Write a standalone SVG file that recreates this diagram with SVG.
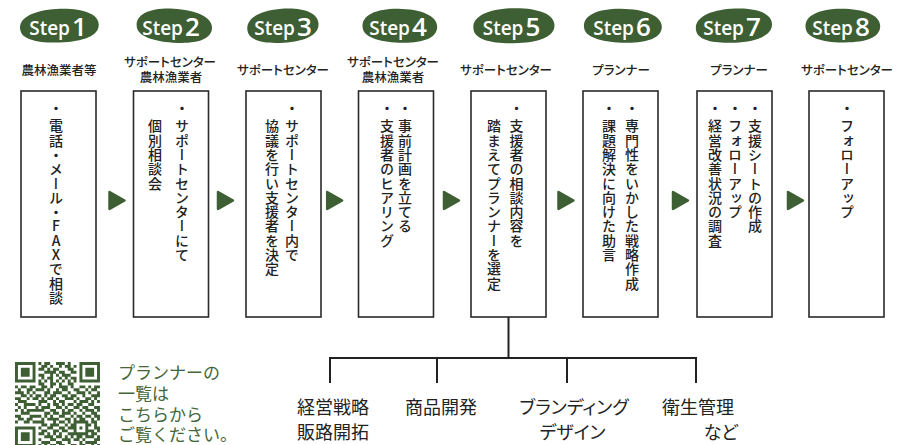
<svg xmlns="http://www.w3.org/2000/svg" width="910" height="445" viewBox="0 0 910 445">
<style>
.badge{fill:#3e5f34}
.st{fill:#fff;font-family:"Open Sans","Liberation Sans",sans-serif;font-weight:600;text-anchor:middle}
.lbl{font-family:"Noto Sans CJK JP",sans-serif;font-size:12.5px;font-weight:500;fill:#222;text-anchor:middle;font-feature-settings:"palt"}
.box{fill:#fff;stroke:#2a2a2a;stroke-width:1.6}
.vt{font-family:"Noto Sans CJK JP",sans-serif;font-size:14px;font-weight:500;fill:#222;writing-mode:vertical-rl;letter-spacing:0.3px}
.arr{fill:#3e5f34;stroke:#3e5f34;stroke-width:2.5;stroke-linejoin:round}
.tree{stroke:#222;stroke-width:2;fill:none}
.cat{font-family:"Noto Sans CJK JP",sans-serif;font-size:18px;fill:#222;font-feature-settings:"palt"}
.qrt{font-family:"Noto Sans CJK JP",sans-serif;font-size:17px;fill:#456639}
</style>
<defs>
<path id="blob" d="M-40,3 C-42,-10 -25,-17 -2,-17.5 C22,-18 41,-12 41,0 C41,12 25,17.5 0,17.5 C-22,17.5 -39,13 -40,3 Z"/>
</defs>

<g id="step1">
<use href="#blob" class="badge" transform="translate(59,25.7) rotate(-2) scale(0.97,0.96)"/>
<text class="st" x="58" y="35"><tspan font-size="19">Step</tspan><tspan font-size="26" dx="2" dy="0.5">1</tspan></text>
<text class="lbl" x="59" y="74.8">農林漁業者等</text>
<rect class="box" x="21" y="91" width="75" height="226"/>
<text class="vt" x="56" y="101">・</text>
<text class="vt" x="56" y="119">電話・メール・<tspan style="text-orientation:upright">FAX</tspan>で相談</text>
</g>

<g id="step2">
<use href="#blob" class="badge" transform="translate(174,25.7) rotate(4) scale(0.93,0.97)"/>
<text class="st" x="171" y="35"><tspan font-size="19">Step</tspan><tspan font-size="26" dx="2" dy="0.5">2</tspan></text>
<text class="lbl" x="170" y="66.8">サポートセンター</text>
<text class="lbl" x="171" y="81.8">農林漁業者</text>
<rect class="box" x="133.5" y="91" width="75" height="226"/>
<text class="vt" x="182" y="101">・</text>
<text class="vt" x="182" y="119">サポートセンターにて</text>
<text class="vt" x="155" y="119">個別相談会</text>
</g>

<g id="step3">
<use href="#blob" class="badge" transform="translate(282.5,25.7) rotate(-4) scale(0.88,0.97)"/>
<text class="st" x="283" y="35"><tspan font-size="19">Step</tspan><tspan font-size="26" dx="2" dy="0.5">3</tspan></text>
<text class="lbl" x="283" y="74.8">サポートセンター</text>
<rect class="box" x="246" y="91" width="75" height="226"/>
<text class="vt" x="292" y="101">・</text>
<text class="vt" x="292" y="119">サポートセンター内で</text>
<text class="vt" x="272" y="119">協議を行い支援者を決定</text>
</g>

<g id="step4">
<use href="#blob" class="badge" transform="translate(399.5,25.7) rotate(2) scale(0.92,0.97)"/>
<text class="st" x="398" y="35"><tspan font-size="19">Step</tspan><tspan font-size="26" dx="2" dy="0.5">4</tspan></text>
<text class="lbl" x="393" y="66.8">サポートセンター</text>
<text class="lbl" x="393" y="81.8">農林漁業者</text>
<rect class="box" x="358.5" y="91" width="75" height="226"/>
<text class="vt" x="405" y="101">・</text>
<text class="vt" x="405" y="119">事前計画を立てる</text>
<text class="vt" x="387" y="101">・</text>
<text class="vt" x="387" y="119">支援者のヒアリング</text>
</g>

<g id="step5">
<use href="#blob" class="badge" transform="translate(513.5,25.7) rotate(-1)"/>
<text class="st" x="511.5" y="35"><tspan font-size="19">Step</tspan><tspan font-size="26" dx="2" dy="0.5">5</tspan></text>
<text class="lbl" x="506" y="74.8">サポートセンター</text>
<rect class="box" x="471" y="91" width="75" height="226"/>
<text class="vt" x="516.5" y="101">・</text>
<text class="vt" x="516.5" y="119">支援者の相談内容を</text>
<text class="vt" x="494" y="119">踏まえてプランナーを選定</text>
</g>

<g id="step6">
<use href="#blob" class="badge" transform="translate(622.5,25.7) rotate(2) scale(0.96,0.97)"/>
<text class="st" x="622" y="35"><tspan font-size="19">Step</tspan><tspan font-size="26" dx="2" dy="0.5">6</tspan></text>
<text class="lbl" x="621" y="74.8">プランナー</text>
<rect class="box" x="583" y="91" width="75" height="226"/>
<text class="vt" x="632" y="101">・</text>
<text class="vt" x="632" y="119">専門性をいかした戦略作成</text>
<text class="vt" x="609" y="101">・</text>
<text class="vt" x="609" y="119">課題解決に向けた助言</text>
</g>

<g id="step7">
<use href="#blob" class="badge" transform="translate(733.5,25.7) rotate(-3) scale(0.94,0.97)"/>
<text class="st" x="732" y="35"><tspan font-size="19">Step</tspan><tspan font-size="26" dx="2" dy="0.5">7</tspan></text>
<text class="lbl" x="739" y="74.8">プランナー</text>
<rect class="box" x="697" y="91" width="75" height="226"/>
<text class="vt" x="755" y="101">・</text>
<text class="vt" x="755" y="119">支援シートの作成</text>
<text class="vt" x="735" y="101">・</text>
<text class="vt" x="735" y="119">フォローアップ</text>
<text class="vt" x="715" y="101">・</text>
<text class="vt" x="715" y="119">経営改善状況の調査</text>
</g>

<g id="step8">
<use href="#blob" class="badge" transform="translate(842.5,25.7) rotate(1) scale(0.92,0.96)"/>
<text class="st" x="841" y="35"><tspan font-size="19">Step</tspan><tspan font-size="26" dx="2" dy="0.5">8</tspan></text>
<text class="lbl" x="847" y="74.8">サポートセンター</text>
<rect class="box" x="809" y="91" width="75" height="226"/>
<text class="vt" x="847" y="101">・</text>
<text class="vt" x="847" y="119">フォローアップ</text>
</g>

<g id="connectors">
<polygon class="arr" points="109.5,192 124.5,200.5 109.5,209"/>
<polygon class="arr" points="218,192 233,200.5 218,209"/>
<polygon class="arr" points="327.2,192 342.2,200.5 327.2,209"/>
<polygon class="arr" points="444,192 459,200.5 444,209"/>
<polygon class="arr" points="558.5,192 573.5,200.5 558.5,209"/>
<polygon class="arr" points="673,192 688,200.5 673,209"/>
<polygon class="arr" points="788,192 803,200.5 788,209"/>
<path class="tree" d="M508.5,317 V358 M330,383 V358 H696 V383 M437,358 V383 M567,358 V383"/>
</g>

<g id="categories">
<text class="cat" x="297" y="414">経営戦略</text>
<text class="cat" x="297" y="439">販路開拓</text>
<text class="cat" x="405" y="414">商品開発</text>
<text class="cat" x="574" y="414" text-anchor="middle">ブランディング</text>
<text class="cat" x="572.5" y="439" text-anchor="middle">デザイン</text>
<text class="cat" x="662" y="414">衛生管理</text>
<text class="cat" x="738" y="439" text-anchor="end">など</text>
</g>

<g id="qr">
<path transform="translate(15,362) scale(2.93)" fill="none" stroke="#3e5f34" stroke-width="1" d="M0 .5h7M8 .5h1M10 .5h2M14 .5h3M18 .5h1M22 .5h7
M0 1.5h1M6 1.5h1M9 1.5h2M12 1.5h1M15 1.5h1M17 1.5h2M20 1.5h1M22 1.5h1M28 1.5h1
M0 2.5h1M2 2.5h3M6 2.5h1M8 2.5h2M11 2.5h1M13 2.5h2M18 2.5h2M22 2.5h1M24 2.5h3M28 2.5h1
M0 3.5h1M2 3.5h3M6 3.5h1M10 3.5h4M15 3.5h2M19 3.5h2M22 3.5h1M24 3.5h3M28 3.5h1
M0 4.5h1M2 4.5h3M6 4.5h1M8 4.5h2M12 4.5h1M14 4.5h1M16 4.5h3M22 4.5h1M24 4.5h3M28 4.5h1
M0 5.5h1M6 5.5h1M9 5.5h1M11 5.5h2M15 5.5h1M17 5.5h1M19 5.5h2M22 5.5h1M28 5.5h1
M0 6.5h7M8 6.5h1M10 6.5h1M12 6.5h1M14 6.5h1M16 6.5h1M18 6.5h1M20 6.5h1M22 6.5h7
M8 7.5h2M12 7.5h2M15 7.5h1M18 7.5h2
M0 8.5h1M2 8.5h2M5 8.5h2M9 8.5h2M12 8.5h1M15 8.5h3M19 8.5h1M22 8.5h2M25 8.5h1M27 8.5h2
M1 9.5h1M4 9.5h2M7 9.5h3M11 9.5h1M14 9.5h1M16 9.5h2M20 9.5h2M24 9.5h1M26 9.5h2
M0 10.5h3M4 10.5h1M6 10.5h1M10 10.5h2M13 10.5h3M18 10.5h1M21 10.5h3M25 10.5h1M28 10.5h1
M2 11.5h2M5 11.5h1M7 11.5h2M10 11.5h1M12 11.5h2M16 11.5h2M19 11.5h2M23 11.5h1M26 11.5h3
M0 12.5h2M4 12.5h1M6 12.5h2M9 12.5h1M11 12.5h2M14 12.5h1M17 12.5h3M21 12.5h1M24 12.5h2M27 12.5h1
M1 13.5h3M8 13.5h3M13 13.5h1M15 13.5h2M20 13.5h1M22 13.5h3M26 13.5h1M28 13.5h1
M0 14.5h1M3 14.5h4M8 14.5h1M11 14.5h1M13 14.5h2M16 14.5h1M18 14.5h2M21 14.5h2M25 14.5h2
M1 15.5h1M3 15.5h1M7 15.5h1M9 15.5h3M14 15.5h2M17 15.5h1M20 15.5h2M23 15.5h2M27 15.5h2
M0 16.5h1M2 16.5h1M4 16.5h6M12 16.5h2M16 16.5h1M18 16.5h2M22 16.5h1M24 16.5h3M28 16.5h1
M2 17.5h3M10 17.5h2M13 17.5h2M16 17.5h3M20 17.5h1M23 17.5h1M26 17.5h2
M0 18.5h2M5 18.5h4M10 18.5h1M12 18.5h1M15 18.5h2M19 18.5h1M21 18.5h2M24 18.5h2M27 18.5h2
M1 19.5h2M4 19.5h2M9 19.5h1M11 19.5h4M17 19.5h2M20 19.5h1M22 19.5h2M26 19.5h1M28 19.5h1
M0 20.5h1M3 20.5h2M6 20.5h4M13 20.5h1M15 20.5h2M18 20.5h1M20 20.5h5M26 20.5h2
M9 21.5h2M12 21.5h3M17 21.5h1M19 21.5h2M24 21.5h2M27 21.5h1
M0 22.5h7M8 22.5h1M11 22.5h2M15 22.5h2M18 22.5h3M22 22.5h1M24 22.5h1M27 22.5h2
M0 23.5h1M6 23.5h1M9 23.5h2M13 23.5h2M16 23.5h2M20 23.5h1M24 23.5h3M28 23.5h1
M0 24.5h1M2 24.5h3M6 24.5h1M8 24.5h2M11 24.5h1M13 24.5h1M15 24.5h1M18 24.5h7M26 24.5h2
M0 25.5h1M2 25.5h3M6 25.5h1M10 25.5h3M14 25.5h2M17 25.5h1M19 25.5h1M21 25.5h2M24 25.5h3M28 25.5h1
M0 26.5h1M2 26.5h3M6 26.5h1M8 26.5h1M12 26.5h2M16 26.5h3M20 26.5h2M23 26.5h1M27 26.5h2
M0 27.5h1M6 27.5h1M9 27.5h3M14 27.5h2M18 27.5h1M22 27.5h1M24 27.5h4
M0 28.5h7M8 28.5h1M10 28.5h1M12 28.5h2M15 28.5h2M19 28.5h2M22 28.5h2M26 28.5h1M28 28.5h1"/>
<text class="qrt" x="118" y="379">プランナーの</text>
<text class="qrt" x="118" y="400">一覧は</text>
<text class="qrt" x="118" y="421">こちらから</text>
<text class="qrt" x="118" y="441">ご覧ください。</text>
</g>
</svg>
